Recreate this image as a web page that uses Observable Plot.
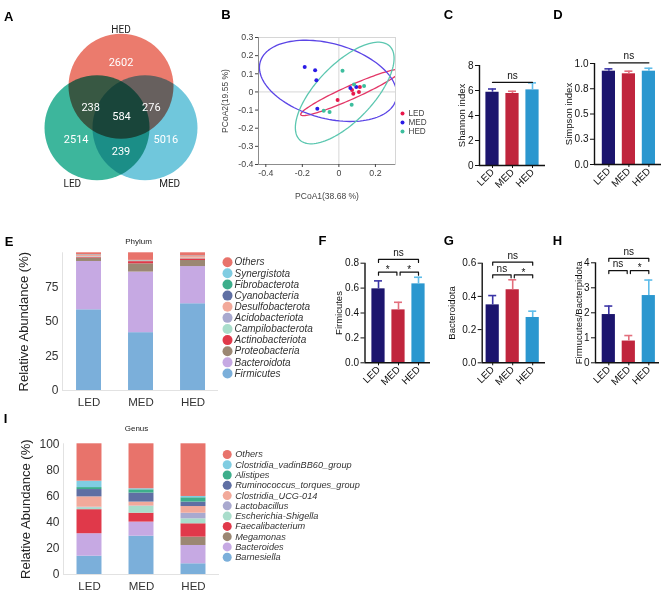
<!DOCTYPE html>
<html>
<head>
<meta charset="utf-8">
<script src="https://cdn.jsdelivr.net/npm/d3@7"></script>
<script src="https://cdn.jsdelivr.net/npm/@observablehq/plot@0.6"></script>
<style>
html,body{margin:0;padding:0;background:#fff;}
#fig{position:relative;width:669px;height:593px;overflow:hidden;background:#fff;font-family:"Liberation Sans",Arial,sans-serif;}
.letter{position:absolute;font:bold 13px/13px "Liberation Sans",Arial,sans-serif;color:#000;transform:translate(-50%,-50%);}
</style>
</head>
<body>
<div id="fig"></div>
<script>
// ================= DATA =================
const groups = ["LED", "MED", "HED"];

// A – Venn
const vennSets = ["HED", "LED", "MED"];
const vennUnique = [2602, 2514, 5016];
const vennPairs = [238, 276, 239];          // HED∩LED, HED∩MED, LED∩MED
const vennAll = 584;

// B – PCoA
const pcoaX_LED = [-0.007, 0.072, 0.079, 0.110, 0.115];
const pcoaY_LED = [-0.045, 0.011, -0.010, 0.000, 0.027];
const pcoaX_MED = [-0.187, -0.130, -0.123, -0.118, 0.063, 0.095];
const pcoaY_MED = [0.137, 0.119, 0.065, -0.093, 0.022, 0.027];
const pcoaX_HED = [0.020, 0.083, 0.138, 0.070, -0.083, -0.051];
const pcoaY_HED = [0.117, 0.041, 0.033, -0.071, -0.104, -0.110];
const ellipseCx = [0.065, -0.059, 0.032];
const ellipseCy = [-0.003, 0.061, -0.006];
const ellipseA = [0.300, 0.386, 0.357];
const ellipseB = [0.037, 0.206, 0.155];
const ellipseDeg = [24.2, -15.6, 46.5];
const pcoaXTicks = [-0.4, -0.2, 0, 0.2];
const pcoaYTicks = [-0.4, -0.3, -0.2, -0.1, 0, 0.1, 0.2, 0.3];

// C – Shannon, D – Simpson
const shannonMean = [5.86, 5.76, 6.05];
const shannonErr = [0.26, 0.18, 0.56];
const shannonTicks = [0, 2, 4, 6, 8];
const simpsonMean = [0.924, 0.898, 0.924];
const simpsonErr = [0.023, 0.026, 0.029];
const simpsonTicks = [0, 0.25, 0.5, 0.75, 1];

// F – Firmicutes, G – Bacteroidota, H – ratio
const firmMean = [0.594, 0.425, 0.634];
const firmErr = [0.064, 0.061, 0.053];
const firmTicks = [0, 0.2, 0.4, 0.6, 0.8];
const firmSig = ["*", "*", "ns"];           // LED-MED, MED-HED, LED-HED
const bactMean = [0.349, 0.440, 0.273];
const bactErr = [0.056, 0.060, 0.038];
const bactTicks = [0, 0.2, 0.4, 0.6];
const bactSig = ["ns", "*", "ns"];
const ratioMean = [1.93, 0.87, 2.69];
const ratioErr = [0.34, 0.22, 0.62];
const ratioTicks = [0, 1, 2, 3, 4];
const ratioSig = ["ns", "*", "ns"];

// E – Phylum (bottom → top)
const phyla = ["Firmicutes", "Bacteroidota", "Proteobacteria", "Actinobacteriota", "Campilobacterota",
  "Acidobacteriota", "Desulfobacterota", "Cyanobacteria", "Fibrobacterota", "Synergistota", "Others"];
const phylumLED = [58.6, 35.1, 2.5, 0.5, 0.3, 0.2, 1.0, 0.2, 0.1, 0.1, 1.4];
const phylumMED = [42.0, 44.0, 6.0, 1.6, 0.2, 0.1, 0.3, 0.1, 0.1, 0.1, 5.5];
const phylumHED = [63.0, 27.0, 4.4, 1.2, 0.3, 0.2, 1.2, 0.2, 0.1, 0.1, 2.3];
const phylumTicks = [0, 25, 50, 75];

// I – Genus (bottom → top)
const genera = ["Barnesiella", "Bacteroides", "Megamonas", "Faecalibacterium", "Escherichia-Shigella",
  "Lactobacillus", "Clostridia_UCG-014", "Ruminococcus_torques_group", "Alistipes",
  "Clostridia_vadinBB60_group", "Others"];
const genusLED = [14.0, 17.2, 0.0, 18.4, 1.5, 0.4, 7.9, 5.6, 1.5, 4.9, 28.6];
const genusMED = [29.3, 10.8, 0.0, 6.8, 5.2, 0.3, 3.0, 6.9, 2.5, 0.8, 34.4];
const genusHED = [8.2, 14.0, 6.4, 10.2, 3.8, 4.3, 5.1, 3.4, 3.3, 1.0, 40.3];
const genusTicks = [0, 20, 40, 60, 80, 100];

// ================= STYLES =================
const vennColors = ["#EB7B6D", "#3DB69C", "#70C7DC"];
const pointColors = ["#E8174B", "#2B1BE6", "#3DBE9E"];
const ellipseColors = ["#E33767", "#5B45E6", "#5CC7B0"];
const barColors = ["#1C156E", "#C0253D", "#2B97CF"];
const errColors = ["#3B35A6", "#E36F7D", "#5FBDEA"];
const taxaColors = ["#7BAFDA", "#C6A9E3", "#9B8773", "#E0394A", "#A9DDCB", "#A9A9CF",
  "#F2A99A", "#5F6FA3", "#3DAE8B", "#80CDE2", "#E8736B"];

const W = 669, H = 593;
const FONT = "'Liberation Sans', Arial, sans-serif";
const fig = document.getElementById("fig");

function mount(el) {
  el.setAttribute("style", `position:absolute;left:0;top:0;background:none;overflow:visible;max-width:none;font-family:${FONT};`);
  fig.appendChild(el);
}
function framePlot(f, opts) {
  return Plot.plot({
    width: W, height: H,
    marginLeft: f.x0, marginRight: W - f.x1, marginTop: f.y0, marginBottom: H - f.y1,
    color: {type: "identity"},
    ...opts
  });
}
const rad = (d) => d * Math.PI / 180;

// ================= A: Venn =================
{
  const R = 27.7;
  const ang = [90, 210, 330].map(rad);
  const centers = ang.map(a => [R * Math.cos(a), R * Math.sin(a)]);
  const circles = vennSets.map((s, k) => ({x: centers[k][0], y: centers[k][1], c: vennColors[k]}));
  const uniq = vennUnique.map((n, k) => ({n, x: centers[k][0] * 1.87, y: centers[k][1] * 1.87}));
  const pairPolar = [[168, 31], [12, 31], [270, 37]];
  const pairs = vennPairs.map((n, k) => ({n, x: pairPolar[k][1] * Math.cos(rad(pairPolar[k][0])), y: pairPolar[k][1] * Math.sin(rad(pairPolar[k][0]))}));
  const all = [{n: vennAll, x: 3 * Math.cos(rad(280)), y: 3 * Math.sin(rad(280))}];
  const labPolar = [[90, 57], [246, 60.7], [294, 60.7]];
  const labs = vennSets.map((s, k) => ({s, x: centers[k][0] + labPolar[k][1] * Math.cos(rad(labPolar[k][0])), y: centers[k][1] + labPolar[k][1] * Math.sin(rad(labPolar[k][0]))}));
  mount(Plot.plot({
    width: W, height: H, margin: 0,
    x: {domain: [-120.5, W - 120.5], axis: null},
    y: {domain: [-(H - 113.5), 113.5], axis: null},
    color: {type: "identity"},
    marks: [
      Plot.dot(circles, {x: "x", y: "y", r: 52.5, fill: "c", mixBlendMode: "multiply"}),
      Plot.text(uniq.concat(pairs, all), {x: "x", y: "y", text: d => String(d.n), fill: "white", fontSize: 11, fontFamily: "Roboto"}),
      Plot.text(labs, {x: "x", y: "y", text: "s", fill: "#222", fontSize: 10, fontFamily: "Roboto"})
    ]
  }));
}

// ================= B: PCoA =================
{
  const f = {x0: 258, x1: 395, y0: 37, y1: 164};
  const pts = [];
  [[pcoaX_LED, pcoaY_LED], [pcoaX_MED, pcoaY_MED], [pcoaX_HED, pcoaY_HED]].forEach(([xs, ys], g) =>
    xs.forEach((x, j) => pts.push({x, y: ys[j], c: pointColors[g]})));
  const ell = [];
  groups.forEach((g, k) => {
    const th = rad(ellipseDeg[k]);
    d3.range(0, 362, 3).forEach(t => {
      const u = rad(t);
      ell.push({
        k,
        x: ellipseCx[k] + ellipseA[k] * Math.cos(u) * Math.cos(th) - ellipseB[k] * Math.sin(u) * Math.sin(th),
        y: ellipseCy[k] + ellipseA[k] * Math.cos(u) * Math.sin(th) + ellipseB[k] * Math.sin(u) * Math.cos(th),
        c: ellipseColors[k]
      });
    });
  });
  const fmtP = d => Math.abs(d) < 1e-9 ? "0" : d.toFixed(1);
  mount(framePlot(f, {
    x: {domain: [-0.44, 0.31]},
    y: {domain: [-0.4, 0.3]},
    marks: [
      Plot.frame({stroke: "#d6d6d6"}),
      Plot.ruleX([0], {stroke: "#d6d6d6"}),
      Plot.ruleY([0], {stroke: "#d6d6d6"}),
      Plot.line(ell, {x: "x", y: "y", z: "k", stroke: "c", strokeWidth: 1.3, clip: true}),
      Plot.dot(pts, {x: "x", y: "y", r: 2, fill: "c"}),
      Plot.ruleX([-0.44], {stroke: "#8c8c8c"}),
      Plot.ruleY([-0.4], {stroke: "#8c8c8c"}),
      Plot.axisY({ticks: pcoaYTicks, tickFormat: fmtP, tickSize: 3, tickPadding: 2, fontSize: 8.8, color: "#444", label: null}),
      Plot.axisX({ticks: pcoaXTicks, tickFormat: fmtP, tickSize: 3, tickPadding: 2, fontSize: 8.8, color: "#444", label: null}),
      Plot.text(["PCoA2(19.55 %)"], {text: d => d, frameAnchor: "left", textAnchor: "middle", dx: -33, rotate: -90, fontSize: 8.5, fill: "#444"}),
      Plot.text(["PCoA1(38.68 %)"], {text: d => d, frameAnchor: "bottom", dy: 34, fontSize: 8.5, fill: "#444"})
    ]
  }));
  // legend
  mount(Plot.plot({
    width: W, height: H, marginLeft: 402, marginRight: W - 403, marginTop: 113, marginBottom: H - 131,
    x: {domain: [0, 1], axis: null}, y: {domain: [0, 2], reverse: true, axis: null},
    color: {type: "identity"},
    marks: [
      Plot.dot([0, 1, 2], {x: () => 0, y: i => i, r: 2, fill: i => pointColors[i]}),
      Plot.text([0, 1, 2], {x: () => 0, y: i => i, text: i => groups[i], dx: 6, textAnchor: "start", fontSize: 8.2, fill: "#444"})
    ]
  }));
}

// ================= C, D, F, G, H: bar panels =================
function barPanel(cfg) {
  const {f, off, ydom, yticks, yfmt, means, errs, ylabel, ylabelX, sig, single, lower, upper} = cfg;
  const xdom = [-off, (f.x1 - f.x0) / 20 - off];
  const rows = groups.map((g, i) => ({i, m: means[i], e: errs[i]}));
  const pxY = (f.y1 - f.y0) / (ydom[1] - ydom[0]);
  const t = 3 / pxY;
  const marks = [
    Plot.rectY(rows, {x1: d => d.i - 0.33, x2: d => d.i + 0.33, y1: 0, y2: "m", fill: d => barColors[d.i]}),
    Plot.ruleX(rows, {x: "i", y1: "m", y2: d => d.m + d.e, stroke: d => errColors[d.i], strokeWidth: 1.6}),
    Plot.ruleY(rows, {y: d => d.m + d.e, x1: d => d.i - 0.2, x2: d => d.i + 0.2, stroke: d => errColors[d.i], strokeWidth: 1.6}),
    Plot.ruleX([xdom[0]], {stroke: "#111", strokeWidth: 1.4}),
    Plot.ruleY([0], {stroke: "#111", strokeWidth: 1.4}),
    Plot.axisY({ticks: yticks, tickFormat: yfmt, tickSize: 4, tickPadding: 2, fontSize: 10, color: "#111", label: null}),
    Plot.axisX({ticks: [0, 1, 2], tickFormat: i => groups[i], tickRotate: -45, tickSize: 3, tickPadding: 2, fontSize: 10, color: "#111", label: null}),
    Plot.text([ylabel], {text: d => d, frameAnchor: "left", textAnchor: "middle", dx: ylabelX - f.x0, rotate: -90, fontSize: 9.5, fill: "#111"})
  ];
  if (single != null) {
    marks.push(Plot.line([0, 2], {x: d => d, y: () => single, stroke: "#111", strokeWidth: 1.2}));
    marks.push(Plot.text(["ns"], {x: () => 1, y: () => single, text: d => d, dy: -6.8, fontSize: 10, fill: "#111"}));
  } else {
    const spans = [[0, 0.92, lower], [1.08, 2, lower], [0, 2, upper]];
    const pts = [];
    spans.forEach(([a, b, y], k) => {
      pts.push({k, x: a, y: y - t}, {k, x: a, y}, {k, x: b, y}, {k, x: b, y: y - t});
    });
    marks.push(Plot.line(pts, {x: "x", y: "y", z: "k", stroke: "#111", strokeWidth: 1.2}));
    const labs = spans.map((s, k) => ({x: (s[0] + s[1]) / 2, y: s[2], lab: sig[k]}));
    marks.push(Plot.text(labs.filter(d => d.lab === "ns"), {x: "x", y: "y", text: "lab", dy: -6.3, fontSize: 10, fill: "#111"}));
    marks.push(Plot.text(labs.filter(d => d.lab !== "ns"), {x: "x", y: "y", text: "lab", dy: -2.4, fontSize: 10, fill: "#111"}));
  }
  mount(framePlot(f, {x: {domain: xdom}, y: {domain: ydom}, marks}));
}

const fix1 = d => d.toFixed(1);
barPanel({f: {x0: 479, x1: 545, y0: 65, y1: 165}, off: 0.65, ydom: [0, 8], yticks: shannonTicks, yfmt: d => String(d),
  means: shannonMean, errs: shannonErr, ylabel: "Shannon index", ylabelX: 461, single: 6.65});
barPanel({f: {x0: 594, x1: 661, y0: 63, y1: 164}, off: 0.72, ydom: [0, 1], yticks: simpsonTicks, yfmt: fix1,
  means: simpsonMean, errs: simpsonErr, ylabel: "Simpson index", ylabelX: 568, single: 1.007});
barPanel({f: {x0: 364.5, x1: 430, y0: 262.7, y1: 362.3}, off: 0.675, ydom: [0, 0.8], yticks: firmTicks, yfmt: fix1,
  means: firmMean, errs: firmErr, ylabel: "Firmicutes", ylabelX: 338, sig: firmSig, lower: 0.728, upper: 0.83});
barPanel({f: {x0: 481.7, x1: 545, y0: 262.7, y1: 362.3}, off: 0.525, ydom: [0, 0.6], yticks: bactTicks, yfmt: fix1,
  means: bactMean, errs: bactErr, ylabel: "Bacteroidota", ylabelX: 451, sig: bactSig, lower: 0.53, upper: 0.606});
barPanel({f: {x0: 595, x1: 659, y0: 262.3, y1: 362.3}, off: 0.665, ydom: [0, 4], yticks: ratioTicks, yfmt: d => String(d),
  means: ratioMean, errs: ratioErr, ylabel: "Firmucutes/Bacterpidota", ylabelX: 578, sig: ratioSig, lower: 3.69, upper: 4.18});

// ================= E, I: stacked bars =================
function stackPanel(cfg) {
  const {f, xdom, vals, yticks, title, titleDx, titleDy, ylabelX} = cfg;
  const rows = [];
  vals.forEach((arr, i) => {
    let c = 0;
    arr.forEach((v, j) => { rows.push({i, y1: c, y2: c + v, c: taxaColors[j]}); c += v; });
  });
  mount(framePlot(f, {
    x: {domain: xdom}, y: {domain: [0, 100]},
    marks: [
      Plot.ruleX([xdom[0]], {stroke: "#e2e2e2"}),
      Plot.ruleY([0], {stroke: "#e2e2e2"}),
      Plot.rectY(rows, {x1: d => d.i - 0.24, x2: d => d.i + 0.24, y1: "y1", y2: "y2", fill: "c"}),
      Plot.axisY({ticks: yticks, tickSize: 0, tickPadding: 4, fontSize: 12, color: "#333", label: null}),
      Plot.axisX({ticks: [0, 1, 2], tickFormat: i => groups[i], tickSize: 0, tickPadding: 7, fontSize: 11.5, color: "#333", label: null}),
      Plot.text(["Relative Abundance (%)"], {text: d => d, frameAnchor: "left", textAnchor: "middle", dx: ylabelX - f.x0, rotate: -90, fontSize: 13, fill: "#222"}),
      Plot.text([title], {x: () => 1, text: d => d, frameAnchor: "top", dx: titleDx, dy: titleDy, fontSize: 8, fill: "#222"})
    ]
  }));
}
function legendPanel(x, yTop, yBot, names, r, fs, dx) {
  const idx = d3.range(names.length);
  const n = names.length;
  mount(Plot.plot({
    width: W, height: H, marginLeft: x, marginRight: W - x - 1, marginTop: yTop, marginBottom: H - yBot,
    x: {domain: [0, 1], axis: null}, y: {domain: [0, n - 1], reverse: true, axis: null},
    color: {type: "identity"},
    marks: [
      Plot.dot(idx, {x: () => 0, y: i => i, r, fill: i => taxaColors[n - 1 - i]}),
      Plot.text(idx, {x: () => 0, y: i => i, text: i => names[n - 1 - i], dx, textAnchor: "start", fontStyle: "italic", fontSize: fs, fill: "#333"})
    ]
  }));
}
stackPanel({f: {x0: 62, x1: 218, y0: 252.3, y1: 390}, xdom: [-0.51, 2.49], vals: [phylumLED, phylumMED, phylumHED],
  yticks: phylumTicks, title: "Phylum", titleDx: -2.5, titleDy: -14.3, ylabelX: 23});
legendPanel(227, 261.7, 373, phyla, 5, 10, 7);
stackPanel({f: {x0: 63, x1: 219, y0: 443.3, y1: 574}, xdom: [-0.5, 2.5], vals: [genusLED, genusMED, genusHED],
  yticks: genusTicks, title: "Genus", titleDx: -5, titleDy: -18.3, ylabelX: 25});
legendPanel(226.7, 454, 556.7, genera, 4.5, 9.2, 8);

// ================= panel letters =================
[["A", 8.7, 15.5], ["B", 226, 13.5], ["C", 448.5, 13.5], ["D", 558, 13.5], ["E", 9, 241],
 ["F", 322.5, 240], ["G", 448.7, 240], ["H", 557.5, 240], ["I", 5.5, 418]].forEach(([t, x, y]) => {
  const d = document.createElement("div");
  d.className = "letter"; d.textContent = t;
  d.style.left = x + "px"; d.style.top = y + "px";
  fig.appendChild(d);
});
</script>
</body>
</html>
